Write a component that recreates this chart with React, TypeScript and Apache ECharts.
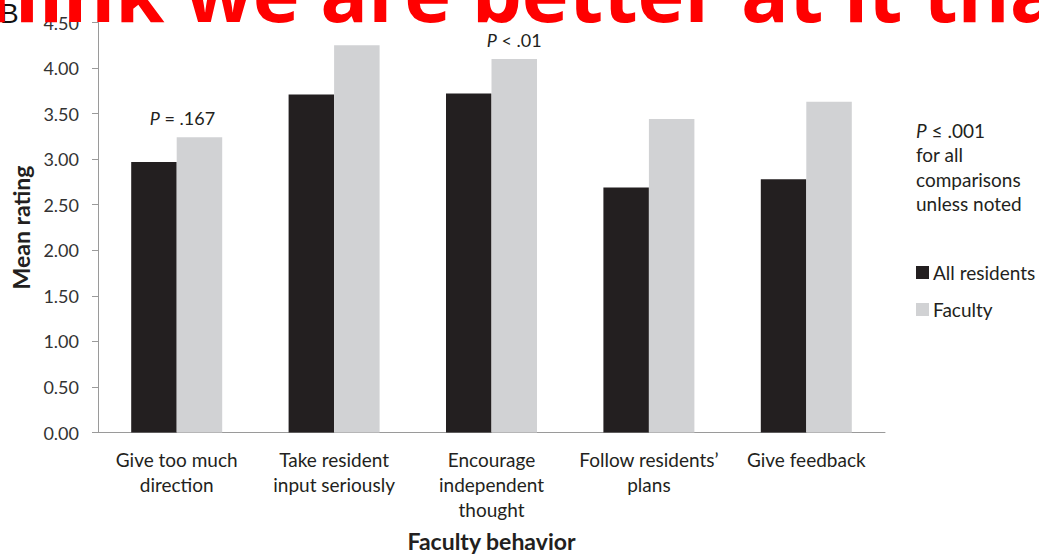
import React, { useEffect, useRef } from "react";
import * as echarts from "echarts";

const categories = [
  "Give too much\ndirection",
  "Take resident\ninput seriously",
  "Encourage\nindependent\nthought",
  "Follow residents’\nplans",
  "Give feedback",
];
const allResidents = [2.97, 3.71, 3.72, 2.69, 2.78];
const faculty = [3.24, 4.25, 4.1, 3.44, 3.63];
const pNotes = ["= .167", "", "< .01", "", ""];
const yTicks = { min: 0, max: 4.5, interval: 0.5 };
const sideNote = ["{i|P} ≤ .001", "for all", "comparisons", "unless noted"];
const overlayLead = "think ";
const overlayRest = "we are better at it than";
const panelLetter = "B";

const FONT = "Lato, 'Open Sans', sans-serif";
const TITLE_FONT = "'Open Sans', sans-serif";
const TEXT = "#231f20";

function measure(text: string, size: number): number {
  const c = document.createElement("canvas").getContext("2d");
  if (!c) return text.length * size * 0.55;
  c.font = `bold ${size}px ${TITLE_FONT}`;
  return c.measureText(text).width;
}

export default function App() {
  const ref = useRef<HTMLDivElement>(null);
  useEffect(() => {
    if (!ref.current) return;
    const chart = echarts.init(ref.current, undefined, { renderer: "svg" });

    // fit the overlay heading: "w" starts near x=185, the "t" of "than" near x=923
    const base = measure("we are better at it ", 100);
    const titleSize = Math.round((738 / base) * 100 * 10) / 10;
    const titleX = 185 - measure(overlayLead, titleSize);
    const titleY = 27 - 0.45 * titleSize;

    const facultyData = faculty.map((v, i) =>
      pNotes[i]
        ? {
            value: v,
            label: {
              show: true,
              position: "top",
              distance: 10,
              offset: [i === 0 ? -17 : 0, 0],
              formatter: "{i|P} " + pNotes[i],
              fontFamily: FONT,
              fontSize: 18,
              color: TEXT,
              rich: { i: { fontStyle: "italic", fontFamily: FONT, fontSize: 18, color: TEXT } },
            },
          }
        : v
    );
    chart.setOption({
      animation: false,
      textStyle: { fontFamily: FONT },
      grid: {
        left: 98,
        right: 154,
        top: 22.5,
        bottom: 121.5,
        containLabel: false,
        outerBoundsMode: "none",
      },
      legend: {
        orient: "vertical",
        left: 916,
        top: 263,
        itemWidth: 13,
        itemHeight: 13,
        itemGap: 18,
        padding: 0,
        icon: "rect",
        textStyle: { fontFamily: FONT, fontSize: 19, color: TEXT, padding: [0, 0, 0, -1] },
        data: ["All residents", "Faculty"],
      },
      xAxis: {
        type: "category",
        data: categories,
        name: "Faculty behavior",
        nameLocation: "middle",
        nameGap: 97,
        nameTextStyle: { fontFamily: FONT, fontSize: 23, fontWeight: "bold", color: TEXT },
        axisLine: { lineStyle: { color: "#9a9a9a", width: 1 } },
        axisTick: { length: 6, lineStyle: { color: "#9a9a9a" } },
        axisLabel: { fontFamily: FONT, fontSize: 19, color: TEXT, lineHeight: 25, margin: 14, interval: 0 },
      },
      yAxis: {
        type: "value",
        min: yTicks.min,
        max: yTicks.max,
        interval: yTicks.interval,
        name: "Mean rating",
        nameLocation: "middle",
        nameGap: 66,
        nameTextStyle: { fontFamily: FONT, fontSize: 23, fontWeight: "bold", color: TEXT },
        splitLine: { show: false },
        axisLine: { show: true, lineStyle: { color: "#9a9a9a", width: 1 } },
        axisTick: { show: true, length: 6, lineStyle: { color: "#9a9a9a" } },
        axisLabel: {
          fontFamily: FONT,
          fontSize: 18,
          color: "#333",
          margin: 19,
          formatter: (v: number) => v.toFixed(2),
        },
      },
      series: [
        {
          name: "All residents",
          type: "bar",
          data: allResidents,
          barWidth: 45.5,
          barGap: "0%",
          itemStyle: { color: "#231f20" },
        },
        {
          name: "Faculty",
          type: "bar",
          data: facultyData,
          barWidth: 45.5,
          barGap: "0%",
          itemStyle: { color: "#d1d2d4" },
        },
      ],
      graphic: [
        {
          type: "text",
          left: 916,
          top: 118,
          style: {
            text: sideNote.join("\n"),
            fontFamily: FONT,
            fontSize: 19,
            lineHeight: 24.5,
            fill: TEXT,
            rich: { i: { fontStyle: "italic", fontFamily: FONT, fontSize: 19, fill: TEXT, lineHeight: 24.5 } },
          },
        },
        {
          type: "text",
          x: 0,
          y: 13,
          style: {
            text: panelLetter,
            fontFamily: "'Liberation Sans', Arial, sans-serif",
            fontSize: 28,
            fill: "#111",
            verticalAlign: "middle",
          },
        },
        {
          type: "text",
          x: titleX,
          y: titleY,
          z: 100,
          style: {
            text: overlayLead + overlayRest,
            fontFamily: TITLE_FONT,
            fontWeight: "bold",
            fontSize: titleSize,
            fill: "#ff0000",
            verticalAlign: "middle",
          },
        },
      ],
    });
    return () => chart.dispose();
  }, []);
  return (
    <div
      ref={ref}
      style={{ position: "absolute", left: 0, top: 0, width: 1039, height: 554, overflow: "hidden" }}
    />
  );
}
